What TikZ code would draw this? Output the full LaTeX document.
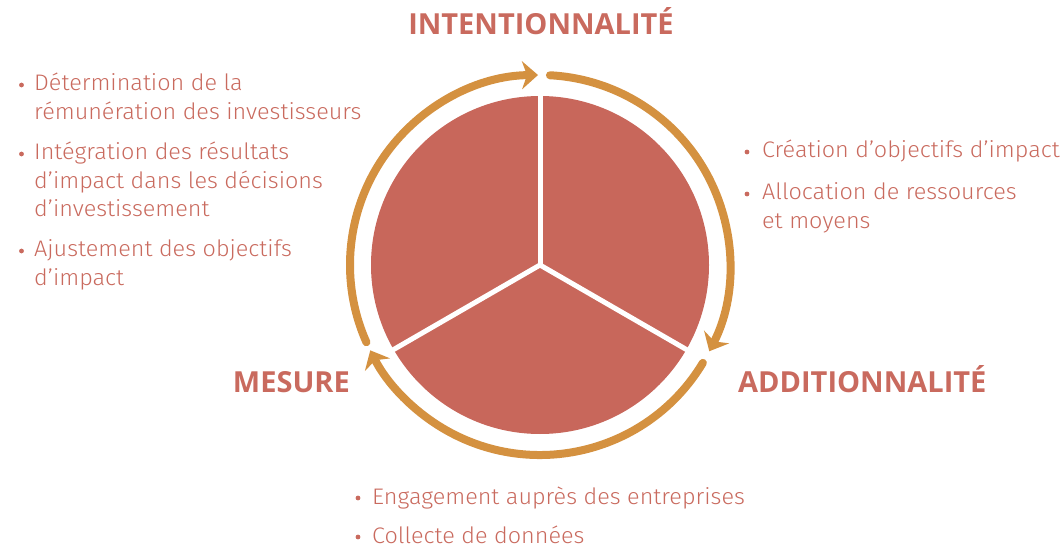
\documentclass[tikz,border=0pt]{standalone}
\usepackage{fontspec}
\setmainfont{Fira Sans Light}[FakeStretch=1.04]
\newfontfamily\headfont{Open Sans}
\usetikzlibrary{arrows.meta,calc}
\definecolor{piered}{HTML}{C8675B}
\definecolor{arcor}{HTML}{D49140}
\definecolor{txt}{HTML}{C96A5E}
\begin{document}
\begin{tikzpicture}[x=1pt,y=1pt,
  heading/.style={font=\headfont\bfseries\fontsize{29}{32}\selectfont, text=txt, inner sep=0pt},
  body/.style={font=\fontsize{22.5}{28.5}\selectfont, text=txt, inner sep=0pt, anchor=base west},
  arcline/.style={draw=arcor, line width=8pt, line cap=round, -{Stealth[length=16pt,width=28pt,inset=5pt]}},
  spoke/.style={draw=white, line width=5pt},
  dot/.style={fill=txt}]
\useasboundingbox (0,0) rectangle (1061,547);
\coordinate (C) at (540,282);
\fill[piered] (C) circle[radius=169];
\foreach \a in {90,-30,210} \draw[spoke] (C) -- ++(\a:171);
% cycle arcs
\draw[arcline] ($(C)+(204:190)$) arc[start angle=204, end angle=90.6, radius=190];
\draw[arcline] ($(C)+(87:190)$) arc[start angle=87, end angle=-27, radius=190];
\draw[arcline] ($(C)+(-31:190)$) arc[start angle=-31, end angle=-153.3, radius=190];
% headings
\node[heading, anchor=base] (int) at (541,512) {INTENTIONNALITÉ};
\node[heading, anchor=base east] (mes) at (350,155) {MESURE};
\node[heading, anchor=base west] (add) at (738,155) {ADDITIONNALITÉ};
% left block
\fill[dot] (21.5,462) circle[radius=2.4];
\node[body] (l1a) at (34,456) {Détermination de la};
\node[body] (l1b) at (34,427.5) {rémunération des investisseurs};
\fill[dot] (21.5,393) circle[radius=2.4];
\node[body] (l2a) at (34,387) {Intégration des résultats};
\node[body] (l2b) at (34,358.5) {d’impact dans les décisions};
\node[body] (l2c) at (34,330) {d’investissement};
\fill[dot] (21.5,296) circle[radius=2.4];
\node[body] (l3a) at (34,290) {Ajustement des objectifs};
\node[body] (l3b) at (34,261.5) {d’impact};
% right block
\fill[dot] (747,395) circle[radius=2.4];
\node[body] (r1a) at (762,389) {Création d’objectifs d’impact};
\fill[dot] (747,353) circle[radius=2.4];
\node[body] (r2a) at (762,347) {Allocation de ressources};
\node[body] (r2b) at (762,318.5) {et moyens};
% bottom block
\fill[dot] (358,49) circle[radius=2.4];
\node[body] (b1a) at (372,43) {Engagement auprès des entreprises};
\fill[dot] (358,10) circle[radius=2.4];
\node[body] (b2a) at (372,4) {Collecte de données};
\end{tikzpicture}
\end{document}
